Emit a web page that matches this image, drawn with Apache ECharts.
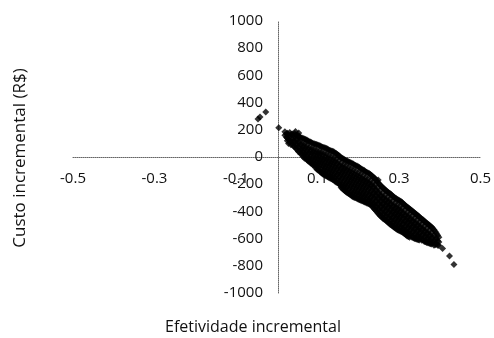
<!DOCTYPE html>
<html>
<head>
<meta charset="utf-8">
<script src="https://cdn.jsdelivr.net/npm/echarts@6/dist/echarts.min.js"></script>
<style>
  html, body { margin: 0; padding: 0; background: #fff; }
  #chart { width: 494px; height: 338px; }
</style>
</head>
<body>
<div id="chart"></div>
<script>
// Incremental cost-effectiveness plane: bootstrap replicates of
// incremental effectiveness (x) vs incremental cost in R$ (y).

// Axis extents and tick steps
const effectRange = [-0.5, 0.5];
const effectStep = 0.2;
const costRange = [-1000, 1000];
const costStep = 200;

// Replicates lying left of the origin / isolated ones
const scatteredPoints = [
  [-0.046, 279], [-0.041, 294], [-0.027, 330],
  [0.005, 215], [0.046, 188], [0.054, 176], [0.249, -169]
];

// Cloud near the origin: each row is [effect, [costs...]]
const cloudNearOrigin = [
  [0.020, [185, 160]],
  [0.024, [170, 145]],
  [0.026, [175, 140, 120]],
  [0.029, [160, 128, 100]],
  [0.032, [180, 150, 110]],
  [0.035, [165, 122, 90]],
  [0.038, [170, 130, 95]],
  [0.041, [160, 118, 80]],
  [0.044, [172, 148, 110, 75]],
  [0.047, [158, 128, 92, 62]],
  [0.050, [165, 125, 90, 55]],
  [0.053, [150, 108, 72, 40]],
  [0.056, [150, 110, 70, 35]],
  [0.059, [142, 90, 50, 22]],
  [0.062, [140, 100, 60, 20]],
  [0.065, [136, 78, 38, 2]],
  [0.068, [132, 95, 55, 15, -10]],
  [0.071, [128, 72, 32, -8]],
  [0.074, [125, 85, 45, 5, -20]],
  [0.077, [118, 62, 22, -18, -30]],
  [0.080, [112, 70, 30, -10, -35]],
  [0.083, [110, 48, 8, -32, -45]],
  [0.086, [105, 65, 25, -15, -50]],
  [0.089, [100, 40, 0, -40, -58]],
  [0.092, [98, 58, 18, -22, -60]],
  [0.095, [94, 32, -8, -50, -78]],
  [0.098, [92, 50, 10, -30, -70, -88]],
  [0.101, [88, 28, -12, -52, -95]]
];

// Central body of the cloud
const cloudCentral = [
  [0.104, [85, 45, 5, -35, -75, -100]],
  [0.107, [80, 22, -18, -58, -110]],
  [0.110, [75, 35, -5, -45, -85, -118]],
  [0.113, [72, 12, -28, -68, -108, -125]],
  [0.116, [70, 30, -12, -52, -92, -130]],
  [0.119, [66, 4, -36, -76, -118, -136]],
  [0.122, [62, 22, -20, -60, -100, -140]],
  [0.125, [58, -8, -48, -88, -128, -146]],
  [0.128, [52, 12, -30, -70, -110, -150]],
  [0.131, [48, -16, -56, -96, -138, -156]],
  [0.134, [45, 5, -38, -78, -118, -160]],
  [0.137, [42, -24, -64, -106, -146, -166]],
  [0.140, [38, -5, -45, -88, -128, -170]],
  [0.143, [30, -34, -74, -116, -156, -178]],
  [0.146, [25, -15, -55, -95, -138, -185]],
  [0.149, [18, -46, -88, -128, -170, -190]],
  [0.152, [12, -28, -68, -110, -150, -195]],
  [0.155, [4, -64, -104, -145, -186, -204]],
  [0.158, [-5, -45, -85, -125, -165, -210, -225]],
  [0.161, [-10, -74, -114, -156, -200, -232]],
  [0.164, [-15, -55, -95, -135, -180, -220, -240]],
  [0.167, [-20, -84, -126, -168, -210, -248]],
  [0.170, [-25, -65, -105, -148, -190, -230, -255]],
  [0.173, [-30, -96, -138, -180, -220, -262]],
  [0.176, [-35, -75, -118, -160, -200, -240, -268]],
  [0.179, [-38, -106, -148, -190, -232, -274]],
  [0.182, [-42, -85, -128, -170, -212, -255, -280]],
  [0.185, [-48, -116, -158, -200, -244, -288]],
  [0.188, [-52, -95, -138, -180, -222, -265, -295]],
  [0.191, [-58, -126, -168, -210, -252, -298]],
  [0.194, [-62, -105, -148, -190, -232, -272, -300]],
  [0.197, [-66, -136, -178, -220, -262, -305]],
  [0.200, [-72, -115, -158, -200, -242, -282, -310]],
  [0.203, [-78, -146, -188, -230, -272, -314]],
  [0.206, [-85, -125, -168, -210, -252, -292, -318]],
  [0.209, [-90, -158, -198, -240, -282, -322]],
  [0.212, [-95, -138, -178, -220, -262, -300, -325]],
  [0.215, [-100, -170, -210, -252, -292, -330]],
  [0.218, [-108, -150, -190, -232, -272, -310, -333]],
  [0.221, [-112, -180, -220, -264, -304, -338]],
  [0.224, [-118, -160, -200, -242, -285, -320, -342]],
  [0.227, [-122, -192, -232, -276, -318, -346]],
  [0.230, [-128, -172, -212, -255, -298, -335, -350]],
  [0.233, [-136, -206, -246, -290, -330, -360]],
  [0.236, [-145, -185, -225, -268, -310, -350, -370]],
  [0.239, [-152, -220, -262, -304, -346, -380]],
  [0.242, [-160, -200, -240, -282, -325, -365, -390]],
  [0.245, [-172, -244, -286, -326, -366, -400]],
  [0.248, [-185, -225, -265, -305, -345, -385, -412]],
  [0.251, [-195, -266, -306, -346, -386, -422]],
  [0.254, [-205, -245, -285, -325, -365, -405, -432]],
  [0.257, [-215, -286, -326, -366, -406, -440]],
  [0.260, [-225, -265, -305, -345, -385, -425, -450]],
  [0.263, [-232, -300, -340, -380, -420, -456]],
  [0.266, [-240, -280, -320, -360, -400, -440, -462]],
  [0.269, [-248, -316, -356, -396, -436, -470]],
  [0.272, [-255, -295, -335, -375, -415, -455, -478]],
  [0.275, [-262, -328, -368, -410, -450, -486]],
  [0.278, [-268, -308, -348, -390, -430, -468, -495]],
  [0.281, [-276, -346, -386, -426, -466, -500]],
  [0.284, [-285, -325, -365, -405, -445, -485, -508]],
  [0.287, [-292, -360, -400, -440, -480, -514]],
  [0.290, [-300, -340, -380, -420, -460, -500, -520]],
  [0.293, [-306, -372, -412, -452, -492, -528]]
];

// Lower-right end of the cloud
const cloudFar = [
  [0.296, [-312, -352, -392, -432, -472, -512, -535]],
  [0.299, [-316, -382, -422, -462, -502, -538]],
  [0.302, [-322, -362, -402, -442, -482, -520, -542]],
  [0.305, [-328, -395, -435, -475, -515, -548]],
  [0.308, [-335, -375, -415, -455, -495, -532, -552]],
  [0.311, [-344, -412, -452, -492, -532, -558]],
  [0.314, [-352, -392, -432, -472, -512, -550, -565]],
  [0.317, [-360, -428, -468, -508, -548, -572]],
  [0.320, [-368, -408, -448, -488, -528, -565, -580]],
  [0.323, [-374, -440, -480, -520, -558, -585]],
  [0.326, [-380, -420, -460, -500, -540, -575, -590]],
  [0.329, [-388, -455, -495, -535, -572]],
  [0.332, [-395, -435, -475, -515, -555, -590]],
  [0.335, [-402, -470, -510, -550, -594]],
  [0.338, [-410, -450, -490, -530, -570, -600]],
  [0.341, [-418, -486, -526, -566, -602]],
  [0.344, [-425, -465, -505, -545, -585, -605]],
  [0.347, [-432, -500, -540, -580, -608]],
  [0.350, [-440, -480, -520, -560, -595, -610]],
  [0.353, [-448, -516, -556, -596]],
  [0.356, [-455, -495, -535, -575, -612]],
  [0.359, [-462, -530, -570, -610]],
  [0.362, [-470, -510, -550, -590, -622]],
  [0.365, [-478, -546, -586, -624]],
  [0.368, [-485, -525, -565, -605, -628]],
  [0.371, [-492, -560, -600, -630]],
  [0.374, [-500, -540, -580, -620, -635]],
  [0.377, [-508, -576, -616, -638]],
  [0.380, [-515, -555, -595, -640]],
  [0.383, [-524, -592, -630]],
  [0.386, [-535, -575, -615, -648]],
  [0.389, [-548, -610, -645]],
  [0.392, [-560, -600, -640]],
  [0.395, [-575, -618, -648]],
  [0.398, [-590, -625, -650]]
];

// Trailing replicates beyond the cloud
const tailPoints = [
  [0.407, -672], [0.424, -728], [0.435, -790]
];

function expandColumns(rows) {
  const out = [];
  rows.forEach(([effect, costs]) => costs.forEach(c => out.push([effect, c])));
  return out;
}

const replicates = [].concat(
  scatteredPoints,
  expandColumns(cloudNearOrigin),
  expandColumns(cloudCentral),
  expandColumns(cloudFar),
  tailPoints
);

const textFont = 'Open Sans';
const axisLineStyle = { color: '#666', type: 'dotted', width: 1 };

const chart = echarts.init(document.getElementById('chart'), null, { renderer: 'canvas' });

const gridBox = { left: 73, right: 11, top: 21, bottom: 45 };
const plotW = 494 - gridBox.left - gridBox.right;
const plotH = 338 - gridBox.top - gridBox.bottom;
// Both axes cross at the origin, which sits at the centre of the plot area
const xAxisShift = -plotH * (0 - costRange[0]) / (costRange[1] - costRange[0]);
const yAxisShift = -plotW * (0 - effectRange[0]) / (effectRange[1] - effectRange[0]);

chart.setOption({
  animation: false,
  backgroundColor: '#fff',
  grid: Object.assign({ containLabel: false }, gridBox),
  xAxis: {
    type: 'value',
    position: 'bottom',
    offset: xAxisShift,
    min: effectRange[0],
    max: effectRange[1],
    interval: effectStep,
    axisLine: { show: true, onZero: false, lineStyle: axisLineStyle },
    axisTick: { show: false },
    splitLine: { show: false },
    axisLabel: {
      margin: 14,
      fontSize: 15,
      fontFamily: textFont,
      color: '#111',
      formatter: v => v.toFixed(1)
    }
  },
  yAxis: {
    type: 'value',
    position: 'left',
    offset: yAxisShift,
    min: costRange[0],
    max: costRange[1],
    interval: costStep,
    axisLine: { show: true, onZero: false, lineStyle: axisLineStyle },
    axisTick: { show: false },
    splitLine: { show: false },
    axisLabel: {
      margin: 15,
      fontSize: 15,
      fontFamily: textFont,
      color: '#111',
      formatter: v => String(v)
    }
  },
  graphic: [
    {
      type: 'text',
      x: 253, y: 327,
      style: {
        text: 'Efetividade incremental',
        font: '16px "Open Sans"',
        fill: '#111',
        align: 'center',
        verticalAlign: 'middle'
      }
    },
    {
      type: 'text',
      x: 20, y: 158,
      rotation: Math.PI / 2,
      style: {
        text: 'Custo incremental (R$)',
        font: '17px "Open Sans"',
        fill: '#111',
        align: 'center',
        verticalAlign: 'middle'
      }
    }
  ],
  series: [{
    type: 'scatter',
    symbol: 'diamond',
    symbolSize: 7,
    itemStyle: { color: '#000' },
    data: replicates
  }]
});
</script>
</body>
</html>
